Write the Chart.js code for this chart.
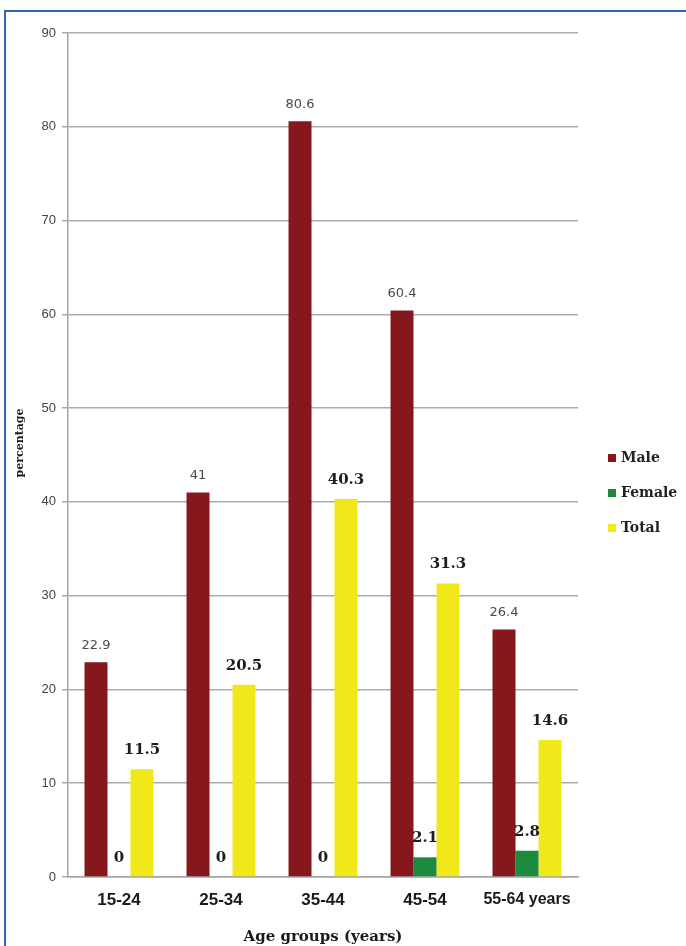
<!DOCTYPE html>
<html>
<head>
<meta charset="utf-8">
<script src="https://cdn.jsdelivr.net/npm/chart.js@4"></script>
<style>
  html, body { margin: 0; padding: 0; background: #ffffff; }
  #wrap { position: relative; width: 686px; height: 946px; overflow: hidden; background: #ffffff; }
  #frame {
    position: absolute; left: 4px; top: 10px; width: 720px; height: 980px;
    border-left: 2px solid #3461b0; border-top: 2px solid #3461b0;
    box-sizing: border-box; pointer-events: none;
  }
  canvas { position: absolute; left: 0; top: 0; }
</style>
</head>
<body>
<div id="wrap">
  <canvas id="chart" width="686" height="946"></canvas>
  <div id="frame"></div>
</div>
<script>
// Age groups and percentages by sex
const categories = ['15-24', '25-34', '35-44', '45-54', '55-64 years'];
const maleValues = [22.9, 41, 80.6, 60.4, 26.4];
const femaleValues = [0, 0, 0, 2.1, 2.8];
const totalValues = [11.5, 20.5, 40.3, 31.3, 14.6];
const yMin = 0;
const yMax = 90;
const yStep = 10;

const seriesNames = ['Male', 'Female', 'Total'];
const seriesColors = ['#86171d', '#1d8b3e', '#f1e81a'];
const yAxisTitle = 'percentage';

// Value labels above each bar: male in small grey sans, the others in bold serif
const valueLabels = {
  id: 'valueLabels',
  afterDatasetsDraw(chart) {
    const ctx = chart.ctx;
    ctx.save();
    ctx.textAlign = 'center';
    ctx.textBaseline = 'middle';
    chart.data.datasets.forEach((ds, di) => {
      const meta = chart.getDatasetMeta(di);
      meta.data.forEach((bar, i) => {
        const v = ds.data[i];
        if (di === 0) {
          ctx.font = '13px "DejaVu Sans", sans-serif';
          ctx.fillStyle = '#4a4a4a';
          ctx.fillText(String(v), bar.x, bar.y - 17);
        } else {
          ctx.font = 'bold 15px "DejaVu Serif", serif';
          ctx.fillStyle = '#1e1e1e';
          ctx.fillText(String(v), bar.x, bar.y - 19);
        }
      });
    });
    ctx.restore();
  }
};

// Legend column on the right of the plot, plus the rotated y-axis caption
const sideLegend = {
  id: 'sideLegend',
  afterDraw(chart) {
    const ctx = chart.ctx;
    ctx.save();
    ctx.textAlign = 'left';
    ctx.textBaseline = 'middle';
    ctx.font = 'bold 14px "DejaVu Serif", serif';
    chart.data.datasets.forEach((ds, i) => {
      const y = 458 + i * 35;
      ctx.fillStyle = ds.backgroundColor;
      ctx.fillRect(608, y - 4, 8, 8);
      ctx.fillStyle = '#222222';
      ctx.fillText(ds.label, 621, y);
    });
    ctx.restore();

    ctx.save();
    ctx.translate(20, 443);
    ctx.rotate(-Math.PI / 2);
    ctx.textAlign = 'center';
    ctx.textBaseline = 'middle';
    ctx.font = 'bold 11px "DejaVu Serif", serif';
    ctx.fillStyle = '#1a1a1a';
    ctx.fillText(yAxisTitle, 0, 0);
    ctx.restore();
  }
};

const chart = new Chart(document.getElementById('chart'), {
  type: 'bar',
  data: {
    labels: categories,
    datasets: [
      { label: seriesNames[0], data: maleValues, backgroundColor: seriesColors[0] },
      { label: seriesNames[1], data: femaleValues, backgroundColor: seriesColors[1] },
      { label: seriesNames[2], data: totalValues, backgroundColor: seriesColors[2] }
    ]
  },
  options: {
    responsive: false,
    animation: false,
    devicePixelRatio: 1,
    layout: { padding: { left: 0, right: 108, top: 33, bottom: 0 } },
    datasets: { bar: { categoryPercentage: 0.676, barPercentage: 1.0 } },
    plugins: {
      legend: { display: false },
      tooltip: { enabled: false }
    },
    scales: {
      x: {
        grid: { display: false, drawTicks: false },
        border: { display: true, color: '#a4a4a4', width: 1.5 },
        ticks: {
          padding: 13,
          color: '#1a1a1a',
          font: (ctx) => ({
            family: '"Liberation Sans", Arial, sans-serif',
            size: ctx.index === 4 ? 16 : 17,
            weight: 'bold'
          })
        },
        title: {
          display: true,
          text: 'Age groups (years)',
          color: '#1a1a1a',
          font: { family: '"DejaVu Serif", serif', size: 15, weight: 'bold' },
          padding: { top: 0, bottom: 0 }
        },
        afterFit(scale) { scale.height = 69; }
      },
      y: {
        min: yMin,
        max: yMax,
        ticks: {
          stepSize: yStep,
          padding: 6,
          color: '#444444',
          font: { family: '"Liberation Sans", Arial, sans-serif', size: 13 }
        },
        grid: { color: '#ababab', lineWidth: 1.5, tickLength: 6 },
        border: { display: true, color: '#a4a4a4', width: 1.5 },
        afterFit(scale) { scale.width = 68; }
      }
    }
  },
  plugins: [valueLabels, sideLegend]
});
</script>
</body>
</html>
